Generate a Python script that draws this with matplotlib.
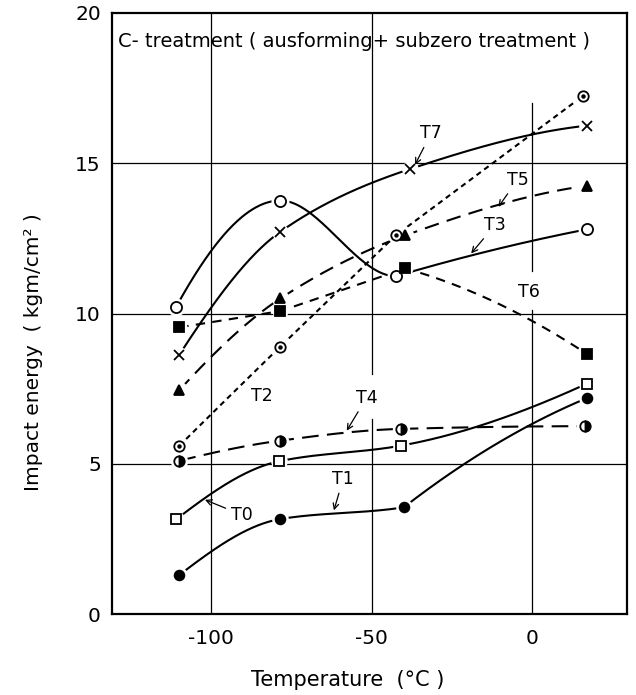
import numpy as np
import matplotlib
matplotlib.use("Agg")
import matplotlib.pyplot as plt

plt.rcParams['font.family'] = ['DejaVu Sans']

# ---- data ----
series_names = ["T0", "T1", "T2", "T3", "T4", "T5", "T6", "T7"]

t0_x = [-111, -79, -41, 17];   t0_y = [3.15, 5.08, 5.6, 7.66]
t1_x = [-110, -78.5, -40, 17]; t1_y = [1.3, 3.16, 3.55, 7.18]
t2_x = [-110, -78.5, -42.5, 16]; t2_y = [5.6, 8.9, 12.6, 17.25]
t3_x = [-111, -78.5, -42.5, 17]; t3_y = [10.22, 13.76, 11.24, 12.8]
t4_x = [-110, -78.5, -41, 16.5]; t4_y = [5.1, 5.77, 6.16, 6.25]
t5_x = [-110, -78.5, -39.5, 17]; t5_y = [7.45, 10.5, 12.6, 14.25]
t6_x = [-110, -78.5, -39.5, 17]; t6_y = [9.54, 10.08, 11.5, 8.66]
t7_x = [-110, -78.5, -38, 17];   t7_y = [8.63, 12.72, 14.81, 16.25]

x_ticks = [-100, -50, 0]
y_ticks = [0, 5, 10, 15, 20]
title_text = "C- treatment ( ausforming+ subzero treatment )"
x_label = "Temperature  (°C )"
y_label = "Impact energy  ( kgm/cm² )"


def pchip(x, y, xs):
    x = np.asarray(x, float); y = np.asarray(y, float)
    n = len(x)
    h = np.diff(x); d = np.diff(y) / h
    m = np.zeros(n)
    for k in range(1, n - 1):
        if d[k - 1] * d[k] <= 0:
            m[k] = 0.0
        else:
            w1 = 2 * h[k] + h[k - 1]; w2 = h[k] + 2 * h[k - 1]
            m[k] = (w1 + w2) / (w1 / d[k - 1] + w2 / d[k])
    def end(h0, h1, d0, d1):
        v = ((2 * h0 + h1) * d0 - h0 * d1) / (h0 + h1)
        if np.sign(v) != np.sign(d0):
            v = 0.0
        elif np.sign(d0) != np.sign(d1) and abs(v) > abs(3 * d0):
            v = 3 * d0
        return v
    m[0] = end(h[0], h[1], d[0], d[1])
    m[-1] = end(h[-1], h[-2], d[-1], d[-2])
    idx = np.clip(np.searchsorted(x, xs) - 1, 0, n - 2)
    k = idx; t = (xs - x[k]) / h[k]
    h00 = 2 * t**3 - 3 * t**2 + 1; h10 = t**3 - 2 * t**2 + t
    h01 = -2 * t**3 + 3 * t**2; h11 = t**3 - t**2
    return h00 * y[k] + h10 * h[k] * m[k] + h01 * y[k + 1] + h11 * h[k] * m[k + 1]


def bowed(x0, y0, x1, y1, a, xs):
    # cubic between two points; 'a' bends the hand-drawn stroke (0 = straight)
    h = x1 - x0; s = (y1 - y0) / h
    m0 = s * (1 + a); m1 = s * (1 - a)
    t = (xs - x0) / h
    h00 = 2 * t**3 - 3 * t**2 + 1; h10 = t**3 - 2 * t**2 + t
    h01 = -2 * t**3 + 3 * t**2; h11 = t**3 - t**2
    return h00 * y0 + h10 * h * m0 + h01 * y1 + h11 * h * m1


# drawing style: segments drawn as (bent) strokes instead of the smooth curve
strokes = {"T1": {2: 0.3}, "T2": {1: 0.0, 2: 0.0}, "T3": {2: 0.2},
           "T6": {0: 0.0, 1: 0.0, 2: -0.4}}


def curve(name, xs, ys):
    X, Y = [], []
    for i in range(len(xs) - 1):
        xx = np.linspace(xs[i], xs[i + 1], 120)
        segs = strokes.get(name, {})
        if i in segs:
            yy = bowed(xs[i], ys[i], xs[i + 1], ys[i + 1], segs[i], xx)
        else:
            yy = pchip(xs, ys, xx)
        X.append(xx); Y.append(yy)
    return np.concatenate(X), np.concatenate(Y)


fig = plt.figure(figsize=(6.36, 6.95), dpi=100)
ax = fig.add_axes([112 / 636, 1 - 614 / 695, (627 - 112) / 636, (614 - 13) / 695])
ax.set_xlim(-131, 29.6)
ax.set_ylim(0, 20)

# grid (hand-drawn, with breaks as in the reference)
gkw = dict(color='black', lw=0.9, zorder=1)
for yv in [5, 10, 15]:
    ax.axhline(yv, **gkw)
ax.plot([-100, -100], [0, 20], **gkw)
ax.plot([-50, -50], [0, 6.5], **gkw)
ax.plot([-50, -50], [8.0, 20], **gkw)
ax.plot([0, 0], [0, 10.1], **gkw)
ax.plot([0, 0], [11.4, 17.0], **gkw)

styles = {
    "T0": dict(ls='-', marker='s', mfc='white', mec='black', ms=7),
    "T1": dict(ls='-', marker='o', mfc='black', mec='black', ms=7),
    "T2": dict(ls=(0, (2.6, 2.0)), marker='o', mfc='white', mec='black', ms=7.5),
    "T3": dict(ls='-', marker='o', mfc='white', mec='black', ms=8),
    "T4": dict(ls=(0, (8, 4)), marker='o', fillstyle='right', mfc='black',
               mfcalt='white', mec='black', ms=7.5),
    "T5": dict(ls=(0, (7, 4)), marker='^', mfc='black', mec='black', ms=7.5),
    "T6": dict(ls=(0, (4.5, 3.5)), marker='s', mfc='black', mec='black', ms=6.5),
    "T7": dict(ls='-', marker='x', mfc='black', mec='black', ms=7),
}
data = {"T0": (t0_x, t0_y), "T1": (t1_x, t1_y), "T2": (t2_x, t2_y), "T3": (t3_x, t3_y),
        "T4": (t4_x, t4_y), "T5": (t5_x, t5_y), "T6": (t6_x, t6_y), "T7": (t7_x, t7_y)}

for name in series_names:
    xs, ys = data[name]
    st = dict(styles[name])
    xx, yy = curve(name, xs, ys)
    ax.plot(xx, yy, color='black', lw=1.5, ls=st.pop('ls'), zorder=2)
    # white halo so the line stops short of the marker
    ax.plot(xs, ys, ls='none', marker='o', ms=st['ms'] + 5, mfc='white', mec='none', zorder=3)
    ax.plot(xs, ys, ls='none', mew=1.3, zorder=4, **st)
    if name == "T2":
        ax.plot(xs, ys, ls='none', marker='o', ms=2.2, mfc='black', mec='black', zorder=5)

# curve labels
fs = 12.5
akw = dict(arrowstyle='->', lw=0.9, color='black', shrinkA=2, shrinkB=0, mutation_scale=10)
ax.annotate("T7", xy=(-36.5, 14.95), xytext=(-31.5, 16.0), fontsize=fs, ha='center', va='center', arrowprops=akw)
ax.annotate("T5", xy=(-10.5, 13.55), xytext=(-4.5, 14.45), fontsize=fs, ha='center', va='center', arrowprops=akw)
ax.annotate("T3", xy=(-19, 12.0), xytext=(-11.5, 12.95), fontsize=fs, ha='center', va='center', arrowprops=akw)
ax.text(-1.0, 10.7, "T6", fontsize=fs, ha='center', va='center')
ax.text(-84.2, 7.25, "T2", fontsize=fs, ha='center', va='center')
ax.annotate("T4", xy=(-57.8, 6.1), xytext=(-51.6, 7.2), fontsize=fs, ha='center', va='center', arrowprops=akw)
ax.annotate("T1", xy=(-61.8, 3.45), xytext=(-58.9, 4.5), fontsize=fs, ha='center', va='center', arrowprops=akw)
ax.annotate("T0", xy=(-102, 3.8), xytext=(-90.5, 3.3), fontsize=fs, ha='center', va='center', arrowprops=akw)

ax.text(-129, 19.05, title_text, fontsize=14, ha='left', va='center')

ax.set_xticks(x_ticks)
ax.set_xticklabels([str(v) for v in x_ticks])
ax.set_yticks(y_ticks)
ax.set_yticklabels([str(v) for v in y_ticks])
ax.tick_params(axis='both', length=0, labelsize=14.5)
ax.tick_params(axis='x', pad=11)
ax.tick_params(axis='y', pad=8)
for s in ax.spines.values():
    s.set_linewidth(1.6)

fig.text(348 / 636, 1 - 680 / 695, x_label, fontsize=15, ha='center', va='center')
fig.text(34 / 636, 1 - 352 / 695, y_label, fontsize=14.5, ha='center', va='center', rotation=90)

fig.savefig("out.png", dpi=100)
